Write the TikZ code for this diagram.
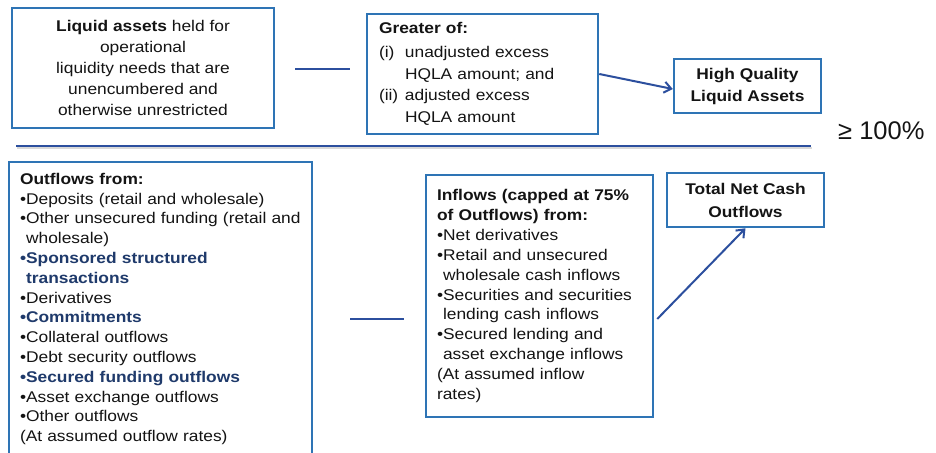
\documentclass[tikz,border=0pt]{standalone}
\usepackage{fontspec}
\setmainfont{Liberation Sans}[FakeStretch=1.12]
\newfontfamily\pctfont{Liberation Sans}
\usetikzlibrary{arrows.meta,calc}
\definecolor{boxblue}{HTML}{2E74B5}
\definecolor{lineblue}{HTML}{2C4F9E}
\definecolor{navy}{HTML}{1F3A6B}
\definecolor{txt}{HTML}{141414}
\newcommand{\bl}{\textbullet}
\newcommand{\ind}{\phantom{\textbullet}}
\newcommand{\hl}[1]{\textcolor{navy}{\textbf{#1}}}
\begin{document}
\begin{tikzpicture}[x=1pt,y=-1pt,
  box/.style={draw=boxblue, line width=2.5pt, fill=white, text=txt, inner sep=0pt},
  op/.style={draw=lineblue, line width=2.5pt},
  conn/.style={draw=lineblue, line width=2pt, -{Straight Barb[length=7pt,width=11pt,line width=2pt]}},
  shadowline/.style={draw=black!15, line width=2.5pt}
]
\useasboundingbox (0,0) rectangle (936,452);
\fill[white] (0,0) rectangle (936,452);

% top row
\node[box, minimum width=262pt, minimum height=120pt, align=center,
      font=\fontsize{15.5}{21}\selectfont] (liq) at (143,68)
  {\textbf{Liquid assets} held for\\operational\\liquidity needs that are\\unencumbered and\\otherwise unrestricted};

\node[box, minimum height=120pt, inner xsep=12pt, text width=207pt, align=left,
      font=\fontsize{15.5}{21.5}\selectfont] (gr) at (482.5,74)
  {\textbf{Greater of:}\\[2.5pt]
   \makebox[26pt][l]{(i)}unadjusted excess\\
   \hspace*{26pt}HQLA amount; and\\
   \makebox[26pt][l]{(ii)}adjusted excess\\
   \hspace*{26pt}HQLA amount};

\node[box, minimum width=147pt, minimum height=54pt, align=center,
      font=\bfseries\fontsize{15.5}{22}\selectfont] (hq) at (747.5,86)
  {High Quality\\Liquid Assets};

% operators and division line
\coordinate (m1a) at (295,69);
\coordinate (m1b) at (350,69);
\draw[op] (m1a) -- (m1b);

\coordinate (da) at (16,146);
\coordinate (db) at (811,146);
\draw[shadowline] ($(da)+(1,2)$) -- ($(db)+(1,2)$);
\draw[op] (da) -- (db);

\node[anchor=west, text=txt, font=\pctfont\fontsize{25.5}{25.5}\selectfont, inner sep=0pt] (pct) at (838,131) {≥ 100\%};

% bottom row
\node[box, minimum height=294pt, inner xsep=11pt, text width=281pt, align=left,
      font=\fontsize{15.5}{19.8}\selectfont] (out) at (160.5,309)
  {\textbf{Outflows from:}\\
   \bl Deposits (retail and wholesale)\\
   \bl Other unsecured funding (retail and\\
   \ind wholesale)\\
   \hl{\bl Sponsored structured}\\
   \hl{\ind transactions}\\
   \bl Derivatives\\
   \hl{\bl Commitments}\\
   \bl Collateral outflows\\
   \bl Debt security outflows\\
   \hl{\bl Secured funding outflows}\\
   \bl Asset exchange outflows\\
   \bl Other outflows\\
   (At assumed outflow rates)};

\coordinate (m2a) at (350,319);
\coordinate (m2b) at (404,319);
\draw[op] (m2a) -- (m2b);

\node[box, minimum height=242pt, inner xsep=11pt, text width=205pt, align=left,
      font=\fontsize{15.5}{19.9}\selectfont] (inf) at (539.5,296)
  {\textbf{Inflows (capped at 75\%}\\
   \textbf{of Outflows) from:}\\
   \bl Net derivatives\\
   \bl Retail and unsecured\\
   \ind wholesale cash inflows\\
   \bl Securities and securities\\
   \ind lending cash inflows\\
   \bl Secured lending and\\
   \ind asset exchange inflows\\
   (At assumed inflow\\
   rates)\\[8pt]};

\node[box, minimum width=157pt, minimum height=54pt, align=center,
      font=\bfseries\fontsize{15.5}{23}\selectfont] (tn) at (745.5,200)
  {Total Net Cash\\Outflows};

% connectors
\draw[conn] (gr.east) -- ($(hq.west)+(0,3)$);
\draw[conn] ($(inf.east)+(3,23)$) -- (tn.south);
\end{tikzpicture}
\end{document}
